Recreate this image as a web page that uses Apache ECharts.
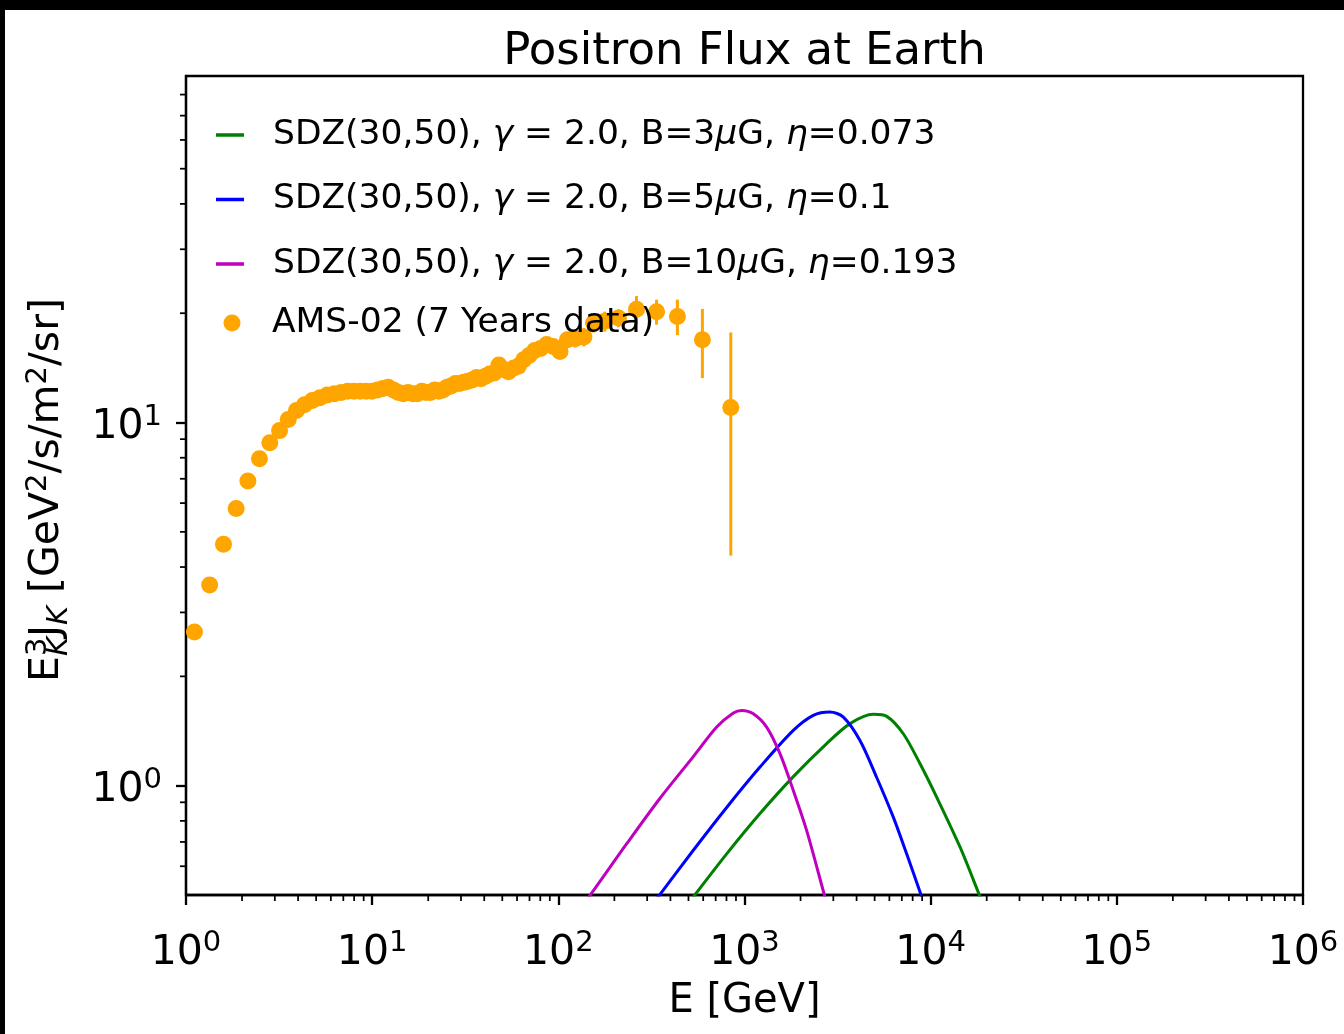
<!DOCTYPE html>
<html>
<head>
<meta charset="utf-8">
<script src="https://cdn.jsdelivr.net/npm/echarts@6/dist/echarts.min.js"></script>
<style>
html, body { margin: 0; padding: 0; background: #000; width: 1344px; height: 1034px; overflow: hidden; }
#chart { position: absolute; left: 5px; top: 10px; width: 1339px; height: 1024px; background: #fff; }
</style>
</head>
<body>
<div id="chart"></div>
<script>
var FONT = '"DejaVu Sans", sans-serif';
var ORANGE = '#ffa500';

// AMS-02 positron flux, E^3 J
var amsEnergy = [1.11, 1.34, 1.59, 1.86, 2.15, 2.48, 2.82, 3.18, 3.54, 3.92,
    4.33, 4.77, 5.24, 5.74, 6.27, 6.82, 7.39, 7.99, 8.62, 9.28,
    9.97, 10.68, 11.42, 12.19, 13.0, 13.83, 14.69, 15.59, 16.52, 17.49,
    18.48, 19.51, 20.58, 21.68, 22.83, 24.0, 25.25, 26.57, 27.96, 29.44,
    31.01, 32.67, 34.44, 36.33, 38.34, 40.49, 42.79, 45.27, 47.93, 50.81,
    53.93, 57.33, 61.05, 65.13, 69.64, 74.65, 80.25, 86.58, 93.79, 102.1,
    111.8, 123.3, 137.2, 154.6, 177.6, 210.3, 263, 337, 436, 594, 844];
var amsFlux = [2.65, 3.57, 4.62, 5.80, 6.90, 7.95, 8.80, 9.50, 10.2, 10.8,
    11.2, 11.5, 11.7, 11.9, 12.0, 12.1, 12.2, 12.2, 12.2, 12.2,
    12.2, 12.3, 12.4, 12.5, 12.3, 12.1, 12.0, 12.1, 12.0, 12.0,
    12.2, 12.1, 12.1, 12.3, 12.2, 12.3, 12.5, 12.6, 12.8, 12.8,
    12.9, 13.0, 13.1, 13.3, 13.2, 13.4, 13.6, 13.7, 14.4, 14.0,
    13.8, 14.1, 14.3, 14.9, 15.3, 15.8, 16.0, 16.4, 16.2, 15.7,
    16.9, 17.0, 17.2, 18.8, 19.0, 19.4, 20.5, 20.2, 19.6, 16.9, 11.0];
var amsErr = [0.04, 0.05, 0.06, 0.07, 0.08, 0.09, 0.10, 0.10, 0.11, 0.11,
    0.11, 0.12, 0.12, 0.12, 0.12, 0.12, 0.13, 0.13, 0.13, 0.13,
    0.13, 0.14, 0.14, 0.14, 0.15, 0.15, 0.15, 0.16, 0.16, 0.17,
    0.17, 0.18, 0.18, 0.19, 0.19, 0.20, 0.21, 0.22, 0.23, 0.24,
    0.25, 0.26, 0.27, 0.29, 0.30, 0.32, 0.34, 0.36, 0.39, 0.40,
    0.42, 0.45, 0.48, 0.52, 0.56, 0.60, 0.65, 0.70, 0.72, 0.75,
    0.85, 0.90, 1.0, 1.1, 1.2, 1.1, 1.8, 1.6, 2.2, 3.65, 6.7];

// SDZ(30,50) model curves
var b3Energy = [370, 542, 802, 1211, 1829, 2763, 3690, 4920, 5807, 7129, 8770, 10770, 14390, 18240, 22000];
var b3Flux = [0.39, 0.501, 0.649, 0.838, 1.059, 1.306, 1.482, 1.572, 1.552, 1.390, 1.149, 0.930, 0.677, 0.501, 0.395];
var b5Energy = [240, 351, 531, 802, 1211, 1829, 2342, 2877, 3396, 4172, 5124, 6299, 7430, 8872, 10500];
var b5Flux = [0.39, 0.501, 0.664, 0.871, 1.125, 1.420, 1.562, 1.595, 1.545, 1.332, 1.055, 0.819, 0.649, 0.501, 0.39];
var b10Energy = [100, 149, 233, 351, 531, 709, 871, 966, 1115, 1315, 1551, 1829, 2158, 2683, 3162];
var b10Flux = [0.38, 0.501, 0.692, 0.922, 1.202, 1.450, 1.585, 1.612, 1.578, 1.450, 1.225, 0.970, 0.752, 0.501, 0.37];

var lineNames = ['SDZ B=3', 'SDZ B=5', 'SDZ B=10'];
var lineColors = ['#008000', '#0000ff', '#bf00bf'];
var amsName = 'AMS-02 (7 Years data)';
var legendLabels = {
    'SDZ B=3': '{pad| }SDZ(30,50), {i|γ} = 2.0, B=3{i|μ}G, {i|η}=0.073',
    'SDZ B=5': '{pad| }SDZ(30,50), {i|γ} = 2.0, B=5{i|μ}G, {i|η}=0.1',
    'SDZ B=10': '{pad| }SDZ(30,50), {i|γ} = 2.0, B=10{i|μ}G, {i|η}=0.193',
    'AMS-02 (7 Years data)': '{pad2| }AMS-02 (7 Years data)'
};

var X_MIN = 1, X_MAX = 1e6, Y_MIN = 0.5, Y_MAX = 90;
var xMajor = [1, 10, 100, 1000, 10000, 100000, 1000000];
var yMajor = [1, 10];

// minor tick values 2..9 per decade
var xMinor = [], yMinor = [];
for (var d = 1; d < 1e6; d *= 10) {
    for (var m = 2; m <= 9; m++) xMinor.push(m * d);
}
[0.1, 1, 10].forEach(function (d) {
    for (var m = 2; m <= 9; m++) {
        var v = m * d;
        if (v > Y_MIN && v < Y_MAX) yMinor.push(v);
    }
});

function pairs(xs, ys) {
    return xs.map(function (x, i) { return [x, ys[i]]; });
}

var tickRich = {
    b: { fontFamily: FONT, fontSize: 41, color: '#000' },
    s: { fontFamily: FONT, fontSize: 29, color: '#000', padding: [0, 0, 19.6, 0] }
};
function expLabel(v) {
    var e = Math.round(Math.log10(v));
    return '{b|10}{s|' + e + '}';
}

function minorTicks(dim, values) {
    return {
        type: 'custom',
        silent: true,
        clip: false,
        z: 5,
        data: values.map(function (v) { return dim === 'x' ? [v, Y_MIN] : [X_MIN, v]; }),
        renderItem: function (params, api) {
            var p = api.coord([api.value(0), api.value(1)]);
            var shape = dim === 'x'
                ? { x1: p[0], y1: p[1], x2: p[0], y2: p[1] + 6 }
                : { x1: p[0] - 6, y1: p[1], x2: p[0], y2: p[1] };
            return { type: 'line', shape: shape, style: { stroke: '#000', lineWidth: 1.75 } };
        }
    };
}

// y axis title built from pieces (stacked E^3_K)
function textWidth(str, size, italic) {
    var ctx = document.createElement('canvas').getContext('2d');
    ctx.font = (italic ? 'italic ' : '') + size + 'px ' + FONT;
    return ctx.measureText(str).width;
}
var yTitlePieces = [
    ['E', 41, false, 0, true],
    ['3', 29, false, -13, false],
    ['K', 29, true, 8, true],
    ['J', 41, false, 0, true],
    ['K', 29, true, 8, true],
    [' [GeV', 41, false, 0, true],
    ['2', 29, false, -13, true],
    ['/s/m', 41, false, 0, true],
    ['2', 29, false, -13, true],
    ['/sr]', 41, false, 0, true]
];
var yTitleChildren = [];
var px = 0, held = 0;
yTitlePieces.forEach(function (p) {
    var w = textWidth(p[0], p[1], p[2]);
    yTitleChildren.push({
        type: 'text',
        x: px,
        y: p[3] - 0.346 * p[1],
        style: {
            text: p[0], fontFamily: FONT, fontSize: p[1], fontStyle: p[2] ? 'italic' : 'normal',
            fill: '#000', align: 'left', verticalAlign: 'middle'
        }
    });
    if (p[4]) { px += Math.max(w, held); held = 0; } else { held = w; }
});
var yTitleLength = px;

var chart = echarts.init(document.getElementById('chart'));
var option = {
    animation: false,
    title: {
        text: 'Positron Flux at Earth',
        left: 739.5,
        top: 20,
        textAlign: 'center',
        padding: 0,
        textStyle: { fontFamily: FONT, fontSize: 45, fontWeight: 'normal', color: '#000' }
    },
    grid: {
        left: 181, top: 66, width: 1117, height: 819,
        show: true, borderColor: '#000', borderWidth: 2.3, backgroundColor: 'transparent'
    },
    legend: [{
        data: lineNames,
        orient: 'vertical',
        left: 211, top: 106, padding: 0,
        icon: 'rect', itemWidth: 28, itemHeight: 3.5, itemGap: 26.5,
        formatter: function (n) { return legendLabels[n]; },
        textStyle: {
            fontFamily: FONT, fontSize: 34.5, color: '#000', lineHeight: 38,
            rich: {
                pad: { width: 24 },
                i: { fontFamily: FONT, fontSize: 34.5, fontStyle: 'italic', color: '#000' }
            }
        }
    }, {
        data: [amsName],
        orient: 'vertical',
        left: 218.5, top: 294, padding: 0,
        icon: 'circle', itemWidth: 17, itemHeight: 17,
        formatter: function (n) { return legendLabels[n]; },
        textStyle: {
            fontFamily: FONT, fontSize: 34.5, color: '#000', lineHeight: 38,
            rich: { pad2: { width: 26.5 } }
        }
    }],
    xAxis: {
        type: 'log', logBase: 10, min: X_MIN, max: X_MAX,
        axisLine: { show: true, onZero: false, lineStyle: { color: '#000', width: 2.3 } },
        axisTick: { show: true, inside: false, length: 10, customValues: xMajor, lineStyle: { color: '#000', width: 2.3 } },
        axisLabel: { customValues: xMajor, margin: 34, formatter: expLabel, rich: tickRich, color: '#000' },
        splitLine: { show: false },
        name: 'E [GeV]', nameLocation: 'middle', nameGap: 87,
        nameTextStyle: { fontFamily: FONT, fontSize: 40, color: '#000' }
    },
    yAxis: {
        type: 'log', logBase: 10, min: Y_MIN, max: Y_MAX,
        axisLine: { show: true, onZero: false, lineStyle: { color: '#000', width: 2.3 } },
        axisTick: { show: true, inside: false, length: 10, customValues: yMajor, lineStyle: { color: '#000', width: 2.3 } },
        axisLabel: { customValues: yMajor, margin: 24, formatter: expLabel, rich: tickRich, color: '#000', padding: [10, 0, 0, 0] },
        splitLine: { show: false }
    },
    graphic: [{
        type: 'group',
        x: 57,
        y: 480 + yTitleLength / 2,
        rotation: Math.PI / 2,
        children: yTitleChildren
    }],
    series: [
        {
            name: lineNames[0], type: 'line', data: pairs(b3Energy, b3Flux),
            showSymbol: false, symbol: 'none', smooth: 0.3, clip: true,
            itemStyle: { color: lineColors[0] }, lineStyle: { color: lineColors[0], width: 3 }
        },
        {
            name: lineNames[1], type: 'line', data: pairs(b5Energy, b5Flux),
            showSymbol: false, symbol: 'none', smooth: 0.3, clip: true,
            itemStyle: { color: lineColors[1] }, lineStyle: { color: lineColors[1], width: 3 }
        },
        {
            name: lineNames[2], type: 'line', data: pairs(b10Energy, b10Flux),
            showSymbol: false, symbol: 'none', smooth: 0.3, clip: true,
            itemStyle: { color: lineColors[2] }, lineStyle: { color: lineColors[2], width: 3 }
        },
        {
            name: amsName + ' err', type: 'custom', clip: true, z: 2,
            encode: { x: 0, y: [1, 2] },
            data: amsEnergy.map(function (e, i) { return [e, amsFlux[i] - amsErr[i], amsFlux[i] + amsErr[i]]; }),
            renderItem: function (params, api) {
                var a = api.coord([api.value(0), api.value(1)]);
                var b = api.coord([api.value(0), api.value(2)]);
                return { type: 'line', shape: { x1: a[0], y1: a[1], x2: b[0], y2: b[1] }, style: { stroke: ORANGE, lineWidth: 3 } };
            }
        },
        {
            name: amsName, type: 'scatter', data: pairs(amsEnergy, amsFlux),
            symbol: 'circle', symbolSize: 17, z: 3,
            itemStyle: { color: ORANGE, opacity: 1 }
        },
        minorTicks('x', xMinor),
        minorTicks('y', yMinor)
    ]
};
chart.setOption(option);
</script>
</body>
</html>
